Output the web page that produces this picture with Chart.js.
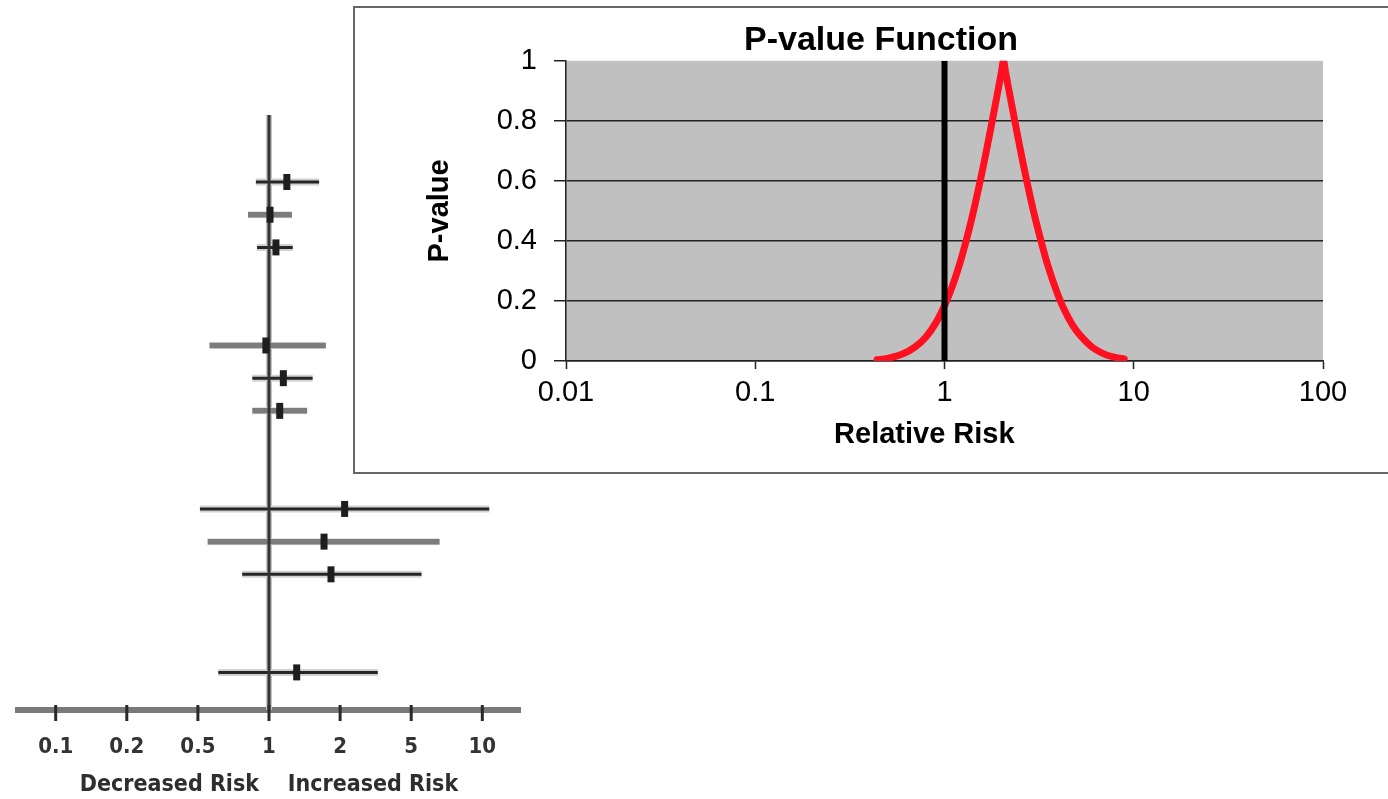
<!DOCTYPE html>
<html><head><meta charset="utf-8">
<script src="https://cdn.jsdelivr.net/npm/chart.js@4/dist/chart.umd.min.js"></script>
<style>
html,body{margin:0;padding:0;background:#fff;width:1388px;height:799px;overflow:hidden;position:relative}
#forest{position:absolute;left:0;top:0;width:540px;height:799px}
#inset{position:absolute;left:353px;top:6px;width:1045px;height:464px;border:2px solid #666;background:#fff}
</style></head><body>
<div id="forest"><canvas id="c1"></canvas></div>
<div id="inset"><canvas id="c2"></canvas></div>
<script>
// ---------- Forest plot data ----------
const forestTicks = [0.1, 0.2, 0.5, 1, 2, 5, 10];
const forestTickLabels = ['0.1', '0.2', '0.5', '1', '2', '5', '10'];
const rowSlots = [0, 1, 2, 5, 6, 7, 10, 11, 12, 15];
const estimates = [1.19, 1.01, 1.07, 0.97, 1.15, 1.11, 2.12, 1.71, 1.83, 1.31];
const lowerCI = [0.88, 0.815, 0.89, 0.56, 0.85, 0.85, 0.51, 0.55, 0.77, 0.61];
const upperCI = [1.63, 1.25, 1.26, 1.74, 1.53, 1.45, 10.7, 6.59, 5.53, 3.25];
const rowKinds = ['dark', 'gray', 'dark', 'gray', 'dark', 'gray', 'dark', 'gray', 'dark', 'dark'];
const forestXLabel = 'Decreased Risk    Increased Risk';

// ---------- P-value function data ----------
const rrValues = [0.44, 0.5, 0.6, 0.7, 0.8, 0.9, 1.0, 1.1, 1.2, 1.3, 1.4, 1.5, 1.6, 1.7, 1.8, 1.9, 2.0, 2.05, 2.1, 2.25, 2.5, 2.75, 3.0, 3.5, 4.0, 4.5, 5.0, 6.0, 7.0, 8.0, 8.9];
const pValues = [0.004, 0.009, 0.023, 0.047, 0.081, 0.127, 0.184, 0.249, 0.321, 0.399, 0.480, 0.563, 0.646, 0.729, 0.810, 0.888, 0.963, 1.0, 0.964, 0.863, 0.713, 0.586, 0.481, 0.322, 0.216, 0.145, 0.099, 0.047, 0.023, 0.012, 0.007];
const pTicksX = [0.01, 0.1, 1, 10, 100];
const nullRR = 1;
const insetTitle = 'P-value Function';
const insetXLabel = 'Relative Risk     ';
const insetYLabel = 'P-value';

// ---------- styles ----------
const STYLES = {
  dark: { line: '#262626', width: 3, halo: '#d2d2d2', haloWidth: 7 },
  gray: { line: '#7c7c7c', width: 5.5, halo: '#dadada', haloWidth: 7 }
};

// equally spaced ticks: piecewise-log position along the forest axis
function toPos(v) {
  const t = forestTicks, n = t.length;
  if (v <= t[0]) return Math.log(v / t[0]) / Math.log(t[1] / t[0]);
  for (let i = 0; i < n - 1; i++) {
    if (v <= t[i + 1]) return i + Math.log(v / t[i]) / Math.log(t[i + 1] / t[i]);
  }
  return n - 1 + Math.log(v / t[n - 1]) / Math.log(t[n - 1] / t[n - 2]);
}

const Y_MIN = -2.05, Y_MAX = 16.15;

const forestDatasets = [];
// reference line halo (bottom-most)
forestDatasets.push({
  data: [{ x: toPos(1), y: Y_MIN }, { x: toPos(1), y: Y_MAX }],
  showLine: true, borderColor: '#c4c4c4', borderWidth: 6, pointRadius: 0, order: 5
});
// halos
rowSlots.forEach((s, i) => {
  const st = STYLES[rowKinds[i]];
  forestDatasets.push({
    data: [{ x: toPos(lowerCI[i]), y: s }, { x: toPos(upperCI[i]), y: s }],
    showLine: true, borderColor: st.halo, borderWidth: st.haloWidth, pointRadius: 0, order: 4, borderCapStyle: 'butt'
  });
});
// CI lines
rowSlots.forEach((s, i) => {
  const st = STYLES[rowKinds[i]];
  forestDatasets.push({
    data: [{ x: toPos(lowerCI[i]), y: s }, { x: toPos(upperCI[i]), y: s }],
    showLine: true, borderColor: st.line, borderWidth: st.width, pointRadius: 0, order: 3
  });
});
// reference line at 1
forestDatasets.push({
  data: [{ x: toPos(1), y: Y_MIN }, { x: toPos(1), y: Y_MAX }],
  showLine: true, borderColor: '#333', borderWidth: 3, pointRadius: 0, order: 1
});
// point estimates
forestDatasets.push({
  data: estimates.map((e, i) => ({ x: toPos(e), y: rowSlots[i] })),
  showLine: false, pointStyle: 'line', rotation: 90, pointRadius: 8, pointBorderWidth: 7,
  pointBorderColor: '#1e1e1e', pointBackgroundColor: '#1e1e1e', order: 0, clip: false
});

const forestTickMarks = {
  id: 'forestTickMarks',
  afterDraw(chart) {
    const s = chart.scales.x, ctx = chart.ctx;
    const yc = s.top + 3;
    ctx.save();
    ctx.fillStyle = '#2a2a2a';
    s.ticks.forEach(t => {
      const px = s.getPixelForValue(t.value);
      ctx.fillRect(px - 1.5, yc - 8, 3, 16);
    });
    ctx.restore();
  }
};

const forestFont = 'DejaVu Sans Condensed, DejaVu Sans';
new Chart(document.getElementById('c1'), {
  type: 'scatter',
  data: { datasets: forestDatasets },
  plugins: [forestTickMarks],
  options: {
    responsive: true, maintainAspectRatio: false, animation: false,
    layout: { padding: { left: 18, right: 20, top: 115, bottom: 0 } },
    plugins: { legend: { display: false }, tooltip: { enabled: false }, title: { display: false } },
    scales: {
      x: {
        type: 'linear', min: -0.53, max: 6.53,
        afterBuildTicks: s => { s.ticks = forestTicks.map((v, i) => ({ value: i })); },
        afterFit: s => { s.height = 89; },
        ticks: {
          autoSkip: false, maxRotation: 0, padding: 24, color: '#333',
          font: { family: forestFont, size: 22, weight: 'bold' },
          callback: v => forestTickLabels[v]
        },
        grid: { display: true, drawOnChartArea: false, drawTicks: false },
        border: { display: true, color: '#7a7a7a', width: 6 },
        title: {
          display: true, text: forestXLabel, color: '#2e2e2e',
          font: { family: forestFont, size: 23, weight: 'bold' }, padding: { top: 0, bottom: 0 }
        }
      },
      y: { type: 'linear', display: false, reverse: true, min: Y_MIN, max: Y_MAX }
    }
  }
});

// ---------- inset: P-value function ----------
const grayBg = {
  id: 'grayBg',
  beforeDraw(chart) {
    const { ctx, chartArea: a } = chart;
    ctx.save();
    ctx.fillStyle = '#c0c0c0';
    ctx.fillRect(a.left, a.top, a.right - a.left, a.bottom - a.top);
    ctx.restore();
  }
};

const F = 'Liberation Sans, Arial, sans-serif';
new Chart(document.getElementById('c2'), {
  type: 'scatter',
  data: {
    datasets: [
      {
        data: [{ x: nullRR, y: 0 }, { x: nullRR, y: 1 }],
        showLine: true, borderColor: '#000', borderWidth: 6, pointRadius: 0, order: 0
      },
      {
        data: rrValues.map((x, i) => ({ x: x, y: pValues[i] })),
        showLine: true, borderColor: 'rgb(255,16,32)', borderWidth: 7, pointRadius: 0,
        tension: 0.3, borderJoinStyle: 'round', borderCapStyle: 'round', order: 1
      }
    ]
  },
  plugins: [grayBg],
  options: {
    responsive: true, maintainAspectRatio: false, animation: false,
    layout: { padding: { left: 84, right: 77, top: 0, bottom: 15 } },
    plugins: {
      legend: { display: false }, tooltip: { enabled: false },
      title: {
        display: true, text: insetTitle, color: '#000',
        font: { family: F, size: 34, weight: 'bold' }, padding: { top: 12, bottom: 0 }
      }
    },
    scales: {
      x: {
        type: 'logarithmic', min: 0.01, max: 100,
        afterBuildTicks: s => { s.ticks = pTicksX.map(v => ({ value: v })); },
        afterFit: s => { s.height = 96; },
        ticks: { autoSkip: false, maxRotation: 0, padding: 7, color: '#000', font: { family: F, size: 29 }, callback: v => String(v) },
        grid: { drawOnChartArea: false, drawTicks: true, tickLength: 8, tickColor: '#222', tickWidth: 1.5 },
        border: { display: true, color: '#222', width: 1.5 },
        title: { display: true, text: insetXLabel, color: '#000', font: { family: F, size: 29, weight: 'bold' }, padding: { top: 0, bottom: 5 } }
      },
      y: {
        type: 'linear', min: 0, max: 1,
        afterFit: s => { s.width = 127; },
        ticks: { stepSize: 0.2, padding: 17, color: '#000', font: { family: F, size: 29 }, callback: v => String(Number(v.toFixed(2))) },
        grid: {
          drawOnChartArea: true, drawTicks: true, tickLength: 12, tickColor: '#222', tickWidth: 1.5, lineWidth: 1.5,
          color: c => (Math.abs(c.tick.value - 1) < 1e-9 ? 'rgba(0,0,0,0)' : '#222')
        },
        border: { display: true, color: '#222', width: 1.5 },
        title: { display: true, text: insetYLabel, color: '#000', font: { family: F, size: 29, weight: 'bold' }, padding: { top: -16, bottom: 0 } }
      }
    }
  }
});
</script>
</body></html>
